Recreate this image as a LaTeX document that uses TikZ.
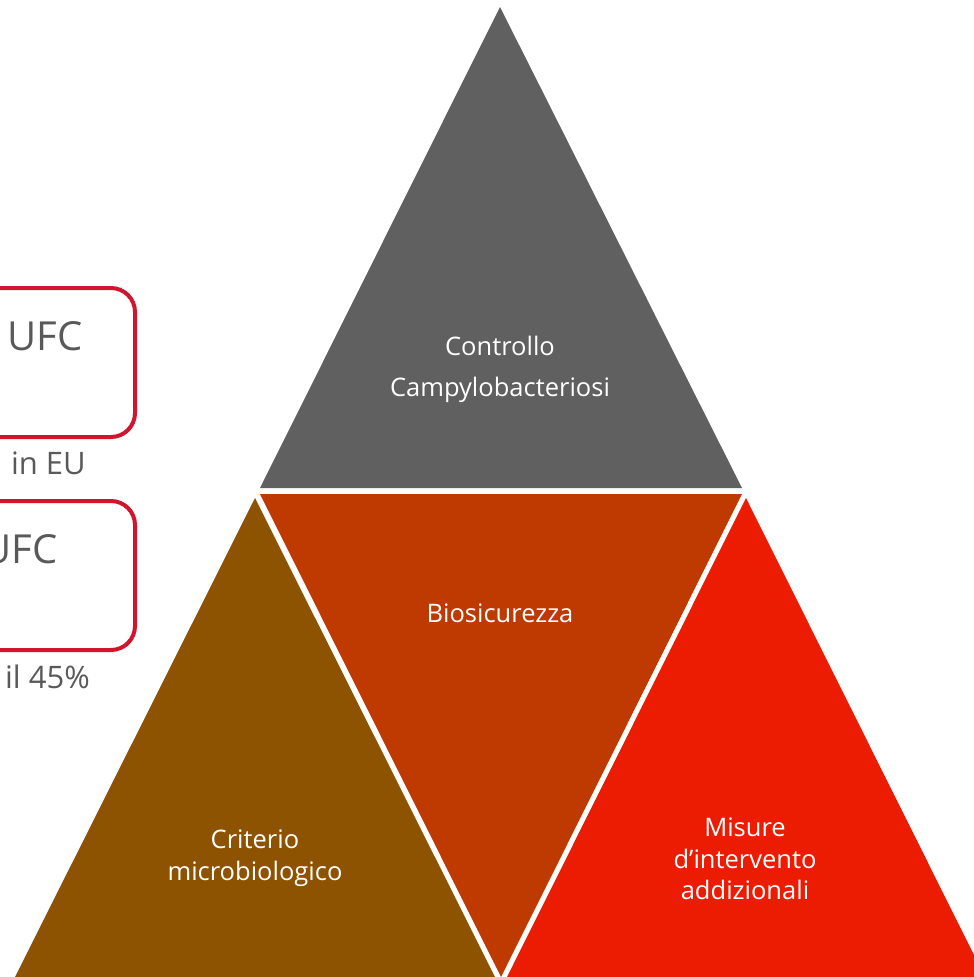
\documentclass[tikz,border=0pt]{standalone}
\usepackage{fontspec}
\setmainfont{Open Sans}
\definecolor{topgray}{HTML}{606060}
\definecolor{midred}{HTML}{BF3A00}
\definecolor{leftbrown}{HTML}{8E5300}
\definecolor{rightred}{HTML}{EC1C03}
\definecolor{boxred}{HTML}{D2152E}
\definecolor{txtgray}{HTML}{595959}
\tikzset{
  tri/.style={draw=none},
  tritext/.style={text=white, font=\fontsize{25.5}{31.5}\selectfont, align=center, inner sep=0pt},
  boxstyle/.style={draw=boxred, line width=4pt, rounded corners=24pt},
  bigtext/.style={text=txtgray, font=\fontsize{40}{46}\selectfont, anchor=base east, inner sep=0pt},
  smalltext/.style={text=txtgray, font=\fontsize{31}{36}\selectfont, anchor=base east, inner sep=0pt}
}
\begin{document}
\begin{tikzpicture}[x=1pt,y=-1pt]
\useasboundingbox (0,0) rectangle (974,977);
\clip (0,0) rectangle (974,977);
% triangles
\coordinate (ta) at (500,7);
\coordinate (tl) at (260,488);
\coordinate (tr) at (742,488);
\fill[topgray] (ta) -- (tl) -- (tr) -- cycle;
\coordinate (ml) at (260,494);
\coordinate (mr) at (742,494);
\coordinate (mb) at (501,977);
\fill[midred] (ml) -- (mr) -- (mb) -- cycle;
\coordinate (la) at (255,498);
\coordinate (ll) at (15,977);
\coordinate (lr) at (495,977);
\fill[leftbrown] (la) -- (ll) -- (lr) -- cycle;
\coordinate (ra) at (746,498);
\coordinate (rl) at (507,977);
\coordinate (rr) at (985,977);
\fill[rightred] (ra) -- (rl) -- (rr) -- cycle;
% triangle labels
\node[tritext] (t1) at (500,346) {Controllo};
\node[tritext] (t2) at (500,390) {Campylobacteriosi};
\node[tritext] (t3) at (500,613) {Biosicurezza};
\node[tritext] (t4) at (255,858) {Criterio\\microbiologico};
\node[tritext] (t5) at (745,859) {Misure\\d’intervento\\addizionali};
% left boxes
\draw[boxstyle] (-60,288) rectangle (135,437);
\draw[boxstyle] (-60,501) rectangle (135,650);
\node[bigtext] (u1) at (83,350) {UFC};
\node[smalltext] (e1) at (86,474) {in EU};
\node[bigtext] (u2) at (58,563) {UFC};
\node[smalltext] (e2) at (90,688) {il 45\%};
\end{tikzpicture}
\end{document}
